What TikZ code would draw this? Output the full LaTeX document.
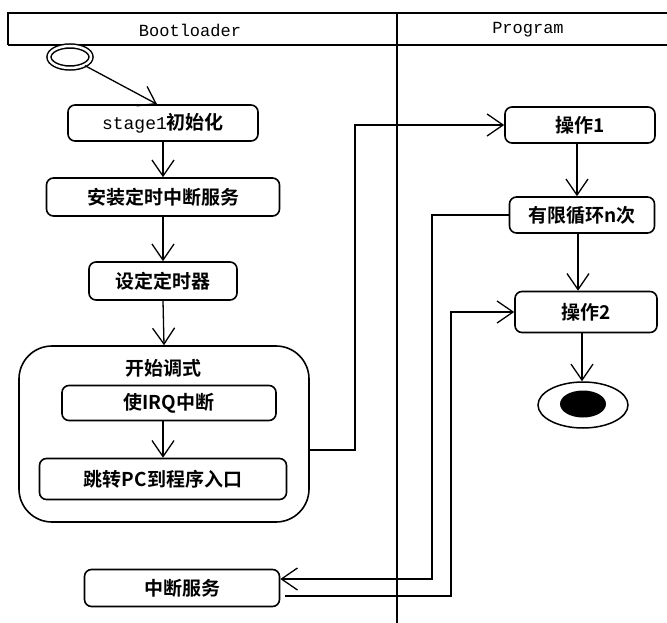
\documentclass[tikz,border=0pt]{standalone}
\usepackage{fontspec}
\setmonofont{Liberation Mono}
\newfontfamily\cjk{Noto Sans CJK SC}[BoldFont={Noto Sans CJK SC Bold}]
\usetikzlibrary{arrows.meta,shapes.geometric,calc}
\begin{document}
\begin{tikzpicture}[x=1pt,y=-1pt,
  box/.style={draw, line width=1.6pt, rounded corners=7pt, inner sep=0pt,
    font=\cjk\bfseries\fontsize{19}{19}\selectfont},
  conn/.style={line width=1.3pt, -{Straight Barb[length=16pt,width=22pt,line width=1.3pt]}},
  lanelbl/.style={font=\ttfamily\fontsize{17}{17}\selectfont},
  hline/.style={line width=1.8pt}]
\useasboundingbox (0,0) rectangle (667,623);
% header and lanes
\draw[hline] (8,45) -- (8,13) -- (667,13);
\draw[hline] (8,45) -- (667,45);
\draw[line width=1.4pt] (397,13) -- (397,623);
\node[lanelbl] (lb) at (190,30) {Bootloader};
\node[lanelbl] (lp) at (528,30) {Program};
% start
\node[draw, ellipse, line width=1.5pt, minimum width=42pt, minimum height=22pt, double, double distance=2.5pt, inner sep=0pt] (start) at (70,57) {};
% bootloader boxes
\node[box, minimum width=190pt, minimum height=36pt] (s1) at (163,123) {{\ttfamily\mdseries\fontsize{18}{18}\selectfont stage1}初始化};
\node[box, minimum width=233pt, minimum height=38pt] (s2) at (163,197) {安装定时中断服务};
\node[box, minimum width=148pt, minimum height=38pt] (s3) at (163,281) {设定定时器};
\node[box, rounded corners=33pt, minimum width=290pt, minimum height=176pt] (cont) at (164,434) {};
\node[font=\cjk\bfseries\fontsize{19}{19}\selectfont] (ttl) at (163,368) {开始调式};
\node[box, minimum width=214pt, minimum height=35pt] (irq) at (169,403) {使IRQ中断};
\node[box, minimum width=247pt, minimum height=41pt] (jmp) at (163,479) {跳转PC到程序入口};
\node[box, minimum width=195pt, minimum height=37pt] (isr) at (182,588) {中断服务};
% program boxes
\node[box, minimum width=150pt, minimum height=36pt] (op1) at (580,125) {操作1};
\node[box, minimum width=145pt, minimum height=36pt] (loop) at (582,215) {有限循环n次};
\node[box, minimum width=142pt, minimum height=41pt] (op2) at (586,312) {操作2};
% end
\node[draw, ellipse, line width=1.5pt, minimum width=90pt, minimum height=46pt] (fin) at (583,405) {};
\node[fill=black, ellipse, minimum width=46pt, minimum height=27pt, inner sep=0pt] (dot) at (583,404) {};
% connectors
\draw[conn] (start.-30) -- ([xshift=-6pt]s1.north);
\draw[conn] (s1.south) -- (s2.north);
\draw[conn] (s2.south) -- (s3.north);
\draw[conn] (s3.south) -- (cont.north);
\draw[conn] ([xshift=-6pt]irq.south) -- ([xshift=-6pt]irq.south |- jmp.north);
\coordinate (c1) at (355,450);
\draw[conn] (c1 -| cont.east) -- (c1) |- (op1.west);
\draw[conn] ([xshift=-3pt]op1.south) -- ([xshift=-3pt]op1.south |- loop.north);
\draw[conn] ([xshift=-4pt]loop.south) -- ([xshift=-4pt]loop.south |- op2.north);
\draw[conn] ([xshift=-4pt]op2.south) -- ([xshift=-4pt]op2.south |- fin.north);
\coordinate (c2) at (432,579);
\draw[conn] (loop.west) -| (c2) -- (c2 -| isr.east);
\coordinate (c3) at (451,596);
\draw[conn] ([xshift=5pt]c3 -| isr.east) -- (c3) |- (op2.west);
\end{tikzpicture}
\end{document}
